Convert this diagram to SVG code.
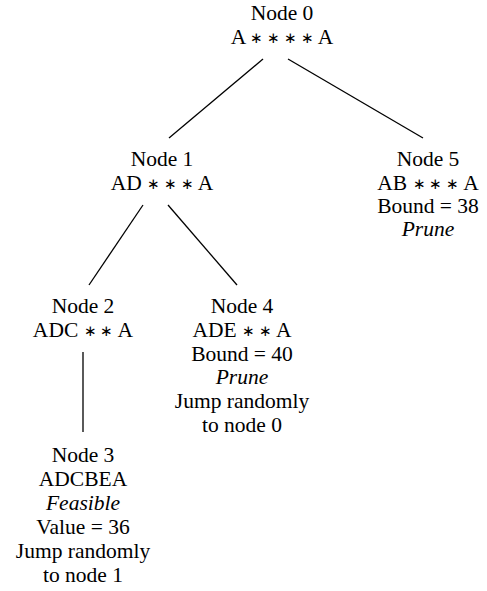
<svg xmlns="http://www.w3.org/2000/svg" width="487" height="591" viewBox="0 0 487 591">
<style>
text{fill:#000;text-anchor:middle}
.i{font-style:italic}
.s{font-size:15px}
.e line{stroke:#000;stroke-width:1.3}
</style>
<rect width="487" height="591" fill="#fff"/>
<g class="e" id="connectors">
<line x1="263" y1="59" x2="169" y2="138"/>
<line x1="288" y1="59" x2="423" y2="138"/>
<line x1="143" y1="205" x2="89" y2="285"/>
<line x1="168" y1="205" x2="237" y2="285"/>
<line x1="83" y1="352" x2="83" y2="432"/>
</g>
<g font-family="'Liberation Serif', 'Times New Roman', serif" font-size="21.5">
<g id="node0">
<text x="282" y="20">Node 0</text>
<text x="282" y="44">A <tspan class="s" dy="-1">∗ ∗ ∗ ∗</tspan> <tspan dy="1">A</tspan></text>
</g>
<g id="node1">
<text x="162" y="166">Node 1</text>
<text x="162" y="190">AD <tspan class="s" dy="-1">∗ ∗ ∗</tspan> <tspan dy="1">A</tspan></text>
</g>
<g id="node5">
<text x="428" y="166">Node 5</text>
<text x="428" y="190">AB <tspan class="s" dy="-1">∗ ∗ ∗</tspan> <tspan dy="1">A</tspan></text>
<text x="428" y="213">Bound = 38</text>
<text x="428" y="236" class="i">Prune</text>
</g>
<g id="node2">
<text x="83" y="313">Node 2</text>
<text x="83" y="337">ADC <tspan class="s" dy="-1">∗ ∗</tspan> <tspan dy="1">A</tspan></text>
</g>
<g id="node4">
<text x="242" y="313">Node 4</text>
<text x="242" y="337">ADE <tspan class="s" dy="-1">∗ ∗</tspan> <tspan dy="1">A</tspan></text>
<text x="242" y="361">Bound = 40</text>
<text x="242" y="384" class="i">Prune</text>
<text x="242" y="408">Jump randomly</text>
<text x="242" y="432">to node 0</text>
</g>
<g id="node3">
<text x="83" y="462">Node 3</text>
<text x="83" y="486">ADCBEA</text>
<text x="83" y="510" class="i">Feasible</text>
<text x="83" y="534">Value = 36</text>
<text x="83" y="558">Jump randomly</text>
<text x="83" y="582">to node 1</text>
</g>
</g>
</svg>
